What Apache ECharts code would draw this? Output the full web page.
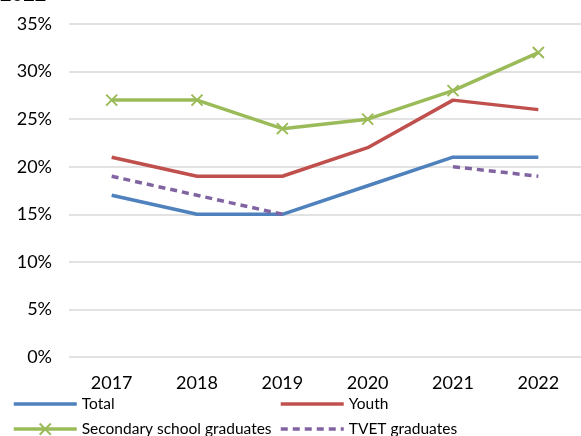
<!DOCTYPE html>
<html>
<head>
<meta charset="utf-8">
<script src="https://cdn.jsdelivr.net/npm/echarts@6/dist/echarts.min.js"></script>
<style>html,body{margin:0;padding:0;background:#fff;}#c{width:581px;height:436px;}</style>
</head>
<body>
<div id="c"></div>
<script>
var years = ['2017', '2018', '2019', '2020', '2021', '2022'];
var total = [17, 15, 15, 18, 21, 21];
var youth = [21, 19, 19, 22, 27, 26];
var secondary = [27, 27, 24, 25, 28, 32];
var tvet = [19, 17, 15, null, 20, 19];
var yTicks = [0, 5, 10, 15, 20, 25, 30, 35];

var FONT = 'Lato, "Noto Sans", sans-serif';
var C_BLUE = '#4F81BD', C_RED = '#C0504D', C_GREEN = '#9BBB59', C_PURPLE = '#8064A2';
var chart = echarts.init(document.getElementById('c'));
function lg(name, left, top, hideSymbol) {
  var o = {
    data: [name], left: left, top: top, itemWidth: 63, itemHeight: 14, itemGap: 0,
    padding: 0, textStyle: { fontFamily: FONT, fontSize: 15.5, color: '#000' }
  };
  if (hideSymbol) o.itemStyle = { opacity: 0 };
  o.lineStyle = { width: 3.5 };
  return o;
}
chart.setOption({
  animation: false,
  graphic: [{ type: 'text', left: 0, top: -15, style: { text: '2022', font: 'bold 20px ' + FONT, fill: '#000' } }],
  grid: { left: 69, right: -3, top: 24, bottom: 79 },
  legend: [lg('Total', 12, 396, true), lg('Youth', 279, 396, true), lg('Secondary school graduates', 12, 421, false), lg('TVET graduates', 279, 421, true)],
  xAxis: {
    type: 'category', data: years, boundaryGap: true,
    axisLine: { show: false }, axisTick: { show: false },
    axisLabel: { fontFamily: FONT, fontSize: 18, color: '#000', margin: 17 }
  },
  yAxis: {
    type: 'value', min: yTicks[0], max: yTicks[yTicks.length - 1], interval: 5,
    axisLine: { show: false }, axisTick: { show: false },
    axisLabel: { fontFamily: FONT, fontSize: 18, color: '#000', margin: 17, formatter: '{value}%' },
    splitLine: { lineStyle: { color: '#d9d9d9', width: 1.5 } }
  },
  series: [
    { name: 'Total', type: 'line', data: total, showSymbol: false, symbol: 'none',
      lineStyle: { color: C_BLUE, width: 3.5 }, itemStyle: { color: C_BLUE } },
    { name: 'Youth', type: 'line', data: youth, showSymbol: false, symbol: 'none',
      lineStyle: { color: C_RED, width: 3.5 }, itemStyle: { color: C_RED } },
    { name: 'Secondary school graduates', type: 'line', data: secondary,
      symbol: 'path://M0,0L10,10M10,0L0,10', symbolSize: 11,
      lineStyle: { color: C_GREEN, width: 3.5 },
      itemStyle: { color: 'none', borderColor: C_GREEN, borderWidth: 2 } },
    { name: 'TVET graduates', type: 'line', data: tvet, showSymbol: false, symbol: 'none', connectNulls: false,
      lineStyle: { color: C_PURPLE, width: 3.5, type: [7, 5] }, itemStyle: { color: C_PURPLE } }
  ]
});
</script>
</body>
</html>
